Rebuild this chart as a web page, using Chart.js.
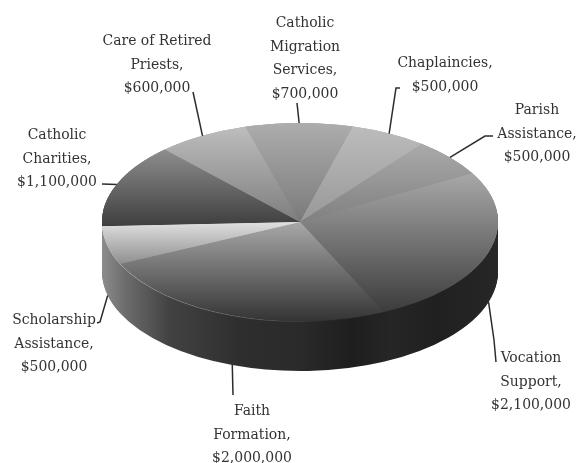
<!DOCTYPE html>
<html>
<head>
<meta charset="utf-8">
<script src="https://cdn.jsdelivr.net/npm/chart.js@4"></script>
<style>
  html, body { margin: 0; padding: 0; background: #fff; }
  canvas { display: block; filter: blur(0.45px); }
</style>
</head>
<body>
<canvas id="graficoPie" width="587" height="463"></canvas>
<script>
const categories = ['Catholic Charities', 'Care of Retired Priests', 'Catholic Migration Services', 'Chaplaincies', 'Parish Assistance', 'Vocation Support', 'Faith Formation', 'Scholarship Assistance'];
const amounts = [1100000, 600000, 700000, 500000, 500000, 2100000, 2000000, 500000];
const labelLines = [
  ['Catholic', 'Charities,', '$1,100,000'],
  ['Care of Retired', 'Priests,', '$600,000'],
  ['Catholic', 'Migration', 'Services,', '$700,000'],
  ['Chaplaincies,', '$500,000'],
  ['Parish', 'Assistance,', '$500,000'],
  ['Vocation', 'Support,', '$2,100,000'],
  ['Faith', 'Formation,', '$2,000,000'],
  ['Scholarship', 'Assistance,', '$500,000']
];

// look of the slices, top and bottom of each vertical gradient
const faceTop = ['#8e8e8e', '#bdbdbd', '#adadad', '#bcbcbc', '#aaaaaa', '#a8a8a8', '#a8a8a8', '#e0e0e0'];
const faceBottom = ['#3e3e3e', '#7e7e7e', '#7a7a7a', '#989898', '#808080', '#3c3c3c', '#343434', '#8f8f8f'];

// where each label sits: centre x, first baseline y, and the leader bend points
const labelX = [57, 157, 305, 445, 537, 531, 252, 54];
const labelY = [139, 45, 27, 67, 114, 362, 415, 324];
const leaderEnd = [[[102, 184]], [[193, 92]], [[297, 103]], [[396, 88], [400, 88]], [[485, 136], [493, 136]], [[494, 340], [496, 362]], [[233, 395]], [[100, 322], [97, 323]]];

const squash = 0.5;
const depth = 50;
const lineGap = 23.5;

function paintArc(ctx, arc, fill) {
  const copy = Object.create(arc);
  copy.options = Object.assign({}, arc.options, { backgroundColor: fill, borderWidth: 0 });
  copy.draw(ctx);
}

function faceGradient(ctx, arc, i) {
  // vertical extent of the slice on the round pie, before squashing
  const ys = [0, Math.sin(arc.startAngle), Math.sin(arc.endAngle)];
  const down = Math.PI / 2;
  for (let k = -2; k < 4; k++) {
    const a = down + k * Math.PI;
    if (a > arc.startAngle && a < arc.endAngle) ys.push(Math.sin(a));
  }
  const g = ctx.createLinearGradient(0, arc.y + Math.min(...ys) * arc.outerRadius, 0, arc.y + Math.max(...ys) * arc.outerRadius);
  g.addColorStop(0, faceTop[i]);
  g.addColorStop(1, faceBottom[i]);
  return g;
}

const pie3d = {
  id: 'pie3d',
  beforeDatasetDraw(chart) {
    const ctx = chart.ctx;
    const arcs = chart.getDatasetMeta(0).data;
    const cx = arcs[0].x, cy = arcs[0].y, r = arcs[0].outerRadius;

    const wall = ctx.createLinearGradient(cx - r, 0, cx + r, 0);
    wall.addColorStop(0, '#8c8c8c');
    wall.addColorStop(0.06, '#6c6c6c');
    wall.addColorStop(0.17, '#424242');
    wall.addColorStop(0.35, '#2e2e2e');
    wall.addColorStop(0.5, '#2a2a2a');
    wall.addColorStop(0.63, '#1e1e1e');
    wall.addColorStop(0.73, '#262626');
    wall.addColorStop(0.85, '#202020');
    wall.addColorStop(1, '#272727');

    const rim = ctx.createLinearGradient(cx - r, 0, cx + r, 0);
    rim.addColorStop(0, '#dcdcdc');
    rim.addColorStop(0.15, '#8e8e8e');
    rim.addColorStop(0.4, '#5c5c5c');
    rim.addColorStop(0.55, '#2a2a2a');
    rim.addColorStop(1, '#222222');

    const layer = (dy, fillOf) => {
      ctx.save();
      ctx.translate(cx, cy + dy);
      ctx.scale(1, squash);
      ctx.translate(-cx, -cy);
      arcs.forEach((arc, i) => paintArc(ctx, arc, fillOf(arc, i)));
      ctx.restore();
    };

    for (let d = depth; d >= 2; d--) layer(d, () => wall);
    layer(1, () => rim);
    // several times, so the dark layers do not show in the seams between slices
    layer(0, (arc, i) => faceGradient(ctx, arc, i));
    layer(0, (arc, i) => faceGradient(ctx, arc, i));
    layer(0, (arc, i) => faceGradient(ctx, arc, i));
    return false;
  },
  afterDatasetsDraw(chart) {
    const ctx = chart.ctx;
    const arcs = chart.getDatasetMeta(0).data;
    ctx.save();
    ctx.strokeStyle = '#2c2c2c';
    ctx.lineWidth = 1.5;
    arcs.forEach((arc, i) => {
      const mid = (arc.startAngle + arc.endAngle) / 2;
      const sy = Math.sin(mid);
      const x = arc.x + Math.cos(mid) * arc.outerRadius;
      // front slices are labelled from the bottom of the wall
      const y = arc.y + sy * arc.outerRadius * squash + (sy > 0 ? depth : 0);
      ctx.beginPath();
      ctx.moveTo(x, y);
      leaderEnd[i].forEach(p => ctx.lineTo(p[0], p[1]));
      ctx.stroke();
    });
    ctx.fillStyle = '#333333';
    ctx.font = '15.5px "DejaVu Serif Condensed", "Liberation Serif", serif';
    ctx.textAlign = 'center';
    ctx.textBaseline = 'alphabetic';
    labelLines.forEach((lines, i) => {
      lines.forEach((t, n) => ctx.fillText(t, labelX[i], labelY[i] + n * lineGap));
    });
    ctx.restore();
  }
};

new Chart(document.getElementById('graficoPie'), {
  type: 'pie',
  data: {
    labels: categories,
    datasets: [{
      data: amounts,
      backgroundColor: faceTop,
      borderWidth: 0
    }]
  },
  options: {
    responsive: false,
    animation: false,
    rotation: -92.5,
    layout: { padding: { left: 102, right: 89, top: 24, bottom: 43 } },
    plugins: { legend: { display: false }, tooltip: { enabled: false } }
  },
  plugins: [pie3d]
});
</script>
</body>
</html>
